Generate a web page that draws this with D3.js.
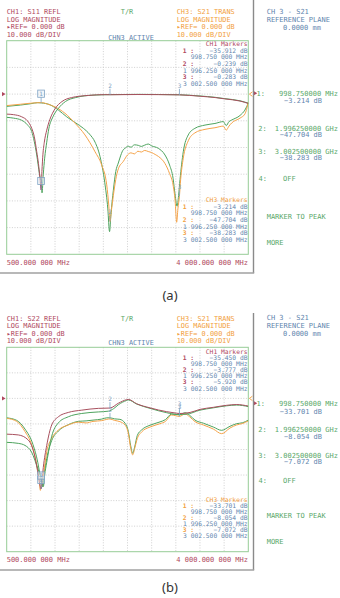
<!DOCTYPE html>
<meta charset="utf-8">
<style>
body { margin: 0; background: #fff; }
svg text { font-family: "DejaVu Sans Mono", monospace; }
.grid line { stroke: #c4c4c4; stroke-width: 0.8; stroke-dasharray: 1,1.6; }
.trace { fill: none; stroke-width: 1; }
</style>
<svg width="340" height="598"></svg>
<script src="https://cdn.jsdelivr.net/npm/d3@7"></script>
<script>

// sweep and screen scale
var freqDomain = [500, 4000];          // MHz, 350 MHz/div
var dbDomain = [-60, 20];              // 10 dB/div, ref 0 dB
var freqLabels = ["500.000 000 MHz", "4 000.000 000 MHz"];

// marker readouts
var markerFreqs = [998.75, 1996.25, 3002.5];
var markerFreqText = ["998.750 000 MHz", "1 996.250 000 MHz", "3 002.500 000 MHz"];
var softFreqText = ["998.750000 MHz", "1.996250000 GHz", "3.002500000 GHz"];
var ch1MarkA = [-35.912, -0.239, -0.283];
var ch3MarkA = [-3.214, -47.704, -38.283];
var ch1MarkB = [-35.450, -3.777, -5.920];
var ch3MarkB = [-33.701, -8.054, -7.072];

// (a) traces, [MHz, dB]
var s11A = [[500,-7.5],[600,-7.7],[717,-8.5],[800,-10],[862,-12.8],[900,-16],[935,-21.6],[960,-26],
  [980,-31],[998.75,-35.9],[1010,-29],[1025,-22.5],[1045,-18],[1080,-13.5],[1127,-9.4],[1200,-5.5],
  [1300,-2.8],[1440,-1.3],[1680,-0.5],[1920,-0.2],[1996,-0.24],[2400,-0.15],[2700,-0.2],[3002,-0.28],
  [3300,-0.8],[3520,-1.3],[3660,-1.8],[3880,-2.6],[4000,-3.5]];
var s11SimA = [[500,-8.7],[600,-9],[717,-9.8],[800,-11.5],[862,-14],[935,-22.8],[975,-30],[1000,-33.5],
  [1012,-37],[1030,-30],[1050,-24],[1080,-18],[1110,-13],[1170,-8.5],[1250,-5.3],[1350,-2.8],
  [1500,-1.3],[1750,-0.4],[2000,-0.2],[2400,-0.1],[2700,-0.15],[3000,-0.25],[3300,-0.7],[3520,-1.2],
  [3660,-1.7],[3880,-2.5],[4000,-3.4]];
var s21A = [[500,-4.3],[700,-3.8],[850,-3.4],[1000,-3.2],[1100,-3.8],[1200,-4.8],[1345,-7.2],[1490,-10.9],
  [1634,-15.3],[1780,-21.6],[1876,-26.6],[1949,-34],[1980,-42],[1997,-47.7],[2015,-44],[2045,-38],
  [2080,-32],[2117,-28],[2190,-25.2],[2250,-22.8],[2300,-22],[2350,-22.4],[2400,-21.4],[2450,-21.7],
  [2500,-21.1],[2550,-21.5],[2600,-21.9],[2650,-22.6],[2700,-23.4],[2793,-26],[2860,-29.8],[2910,-34],
  [2940,-40],[2962,-48],[2980,-43],[3002,-38.3],[3020,-32],[3058,-24],[3130,-17.5],[3228,-14.5],
  [3373,-13.2],[3517,-12.6],[3638,-12],[3680,-13.5],[3720,-12],[3760,-10.8],[3880,-9],[3950,-7.5],
  [4000,-3]];
var s21SimA = [[500,-4.6],[700,-4.1],[850,-3.6],[950,-3.2],[1000,-3.3],[1127,-4],[1250,-6],[1369,-8.5],
  [1500,-10.8],[1610,-12.8],[1700,-15],[1780,-18],[1852,-23.4],[1920,-33],[1965,-43],[1990,-51.5],
  [2010,-45],[2045,-36],[2080,-29],[2117,-25.8],[2190,-20.8],[2214,-20.3],[2260,-19.5],[2300,-19.9],
  [2350,-19],[2407,-19.2],[2450,-19.6],[2500,-19.1],[2550,-18.7],[2600,-19.4],[2696,-20.3],
  [2793,-22.8],[2860,-26.6],[2910,-31.5],[2940,-37.8],[2968,-42],[2990,-38],[3011,-32],[3058,-21.6],
  [3130,-15.3],[3228,-12.8],[3373,-11.6],[3517,-11],[3638,-10.3],[3680,-11.8],[3720,-10.3],
  [3760,-9.7],[3880,-8],[3950,-6],[4000,-3.4]];

// (b) traces
var s22B = [[500,-14],[668,-14.3],[813,-16.3],[910,-23],[958,-30],[998.75,-35.45],[1030,-27],[1080,-18.4],
  [1152,-10.4],[1248,-7.2],[1392,-5.5],[1587,-4.6],[1827,-3.9],[1996,-3.78],[2117,-1.9],[2238,-0.5],
  [2262,-0.4],[2383,-2.1],[2576,-3.7],[2818,-5.2],[2963,-5.8],[3002,-5.92],[3156,-5.5],[3300,-4.3],
  [3493,-3.5],[3687,-2.7],[3832,-2.4],[4000,-3]];
var s22SimB = [[500,-17.2],[668,-17.6],[765,-18.4],[860,-21],[958,-28],[1000,-31],[1031,-34.5],[1050,-30],
  [1080,-25],[1152,-14.8],[1248,-9.6],[1392,-7.2],[1587,-5.9],[1827,-5.3],[1972,-5],[2050,-4],
  [2117,-2.5],[2238,-0.8],[2262,-0.6],[2383,-2.2],[2576,-3.9],[2818,-5.6],[2963,-6.3],[3100,-6.2],
  [3300,-4.6],[3493,-3.7],[3687,-2.9],[3832,-2.6],[4000,-3.2]];
var s21B = [[500,-7.8],[645,-9],[765,-13],[862,-18.2],[935,-26],[970,-32],[988,-36],[998.75,-33.7],
  [1031,-29.9],[1080,-20.8],[1152,-15.6],[1248,-12.4],[1393,-10.4],[1538,-9.3],[1650,-9.6],[1750,-9],
  [1876,-8.7],[1950,-8.2],[1996,-8.05],[2060,-8.6],[2140,-9.1],[2214,-10.4],[2262,-13.7],[2296,-19.5],
  [2325,-22.1],[2354,-19.6],[2392,-15.7],[2456,-13.1],[2576,-11.2],[2721,-9.9],[2800,-9],[2890,-6.5],
  [2950,-6.8],[3002,-7.07],[3084,-6.1],[3150,-7.2],[3228,-9.1],[3349,-10.4],[3493,-12],[3614,-13.8],
  [3735,-11.6],[3830,-10.4],[3920,-9.8],[4000,-8.8]];
var s21SimB = [[500,-7.6],[645,-8.6],[765,-12],[880,-18],[950,-25],[990,-31],[1020,-34.6],[1040,-30],
  [1080,-23.5],[1152,-16.5],[1248,-12.8],[1393,-10.3],[1538,-9],[1650,-8.8],[1750,-8.5],[1876,-8.1],
  [1950,-7.6],[1996,-7.6],[2060,-8],[2140,-8.2],[2214,-9.7],[2262,-12.9],[2296,-18.5],[2325,-21.5],
  [2354,-19],[2392,-14.5],[2456,-12.3],[2576,-10.5],[2721,-9.2],[2800,-8.3],[2890,-6.1],[2950,-6.2],
  [3002,-6.5],[3084,-5.6],[3150,-6.6],[3228,-8.5],[3349,-9.7],[3493,-11.2],[3614,-12.5],[3735,-10.9],
  [3830,-9.9],[3920,-9.5],[4000,-8.5]];

var C = {
  ch1: "#b0485e", ch3: "#f2a040", green: "#5aa86a", blue: "#5f86ae",
  maroon: "#a8505e", simGreen: "#4ea35e", orange: "#f4a34a", mark: "#7fa3c4"
};

var panels = [
  { name: "(a)", ch1Title: "CH1: S11 REFL", refl: s11A, reflSim: s11SimA, trans: s21A, transSim: s21SimA,
    ch1Mark: ch1MarkA, ch3Mark: ch3MarkA,
    box: [6.7, 40.7, 248.3, 254.3], head: 11.7, active: 37.3, side: 11,
    rows: [93.3, 100, 128.3, 134.3, 151.7, 157.9, 178.3, 216.7, 242.7],
    tables: [44, 200], step: 6.6, frame: [0, 273], caption: 295 },
  { name: "(b)", ch1Title: "CH1: S22 REFL", refl: s22B, reflSim: s22SimB, trans: s21B, transSim: s21SimB,
    ch1Mark: ch1MarkB, ch3Mark: ch3MarkB,
    box: [6.7, 347.3, 248.3, 551.7], head: 318.3, active: 342.7, side: 317.3,
    rows: [403.3, 411, 429.3, 436, 455, 461.7, 480, 515, 541],
    tables: [351.7, 499.3], step: 6.1, frame: [313, 570], caption: 587 }
];

var svg = d3.select("svg");
var fmt = d3.format(".3f");

panels.forEach(function(p, pi) {
  var g = svg.append("g");
  var x = d3.scaleLinear().domain(freqDomain).range([p.box[0], p.box[2]]);
  var y = d3.scaleLinear().domain(dbDomain).range([p.box[3], p.box[1]]);

  function txt(s, tx, ty, color, size, anchor) {
    return g.append("text").attr("x", tx).attr("y", ty).attr("dy", "0.36em")
      .attr("fill", color).attr("font-size", size).attr("text-anchor", anchor || "start").text(s);
  }

  // header lines
  var headL = [p.ch1Title, "LOG MAGNITUDE", "\u25b8REF= 0.000 dB", "10.000 dB/DIV"];
  var headR = ["CH3: S21 TRANS", "LOG MAGNITUDE", "\u25b8REF= 0.000 dB", "10.000 dB/DIV"];
  headL.forEach(function(s, i) { txt(s, 6.7, p.head + i * 7.5, C.ch1, 6.9); });
  headR.forEach(function(s, i) { txt(s, 176.7, p.head + i * 7.5, C.ch3, 6.9); });
  txt("T/R", 127, p.head, C.green, 6.9, "middle");
  txt("CHN3 ACTIVE", 131, p.active, C.blue, 6.9, "middle");
  txt("CH 3 - S21", 266.7, p.side, C.blue, 7);
  txt("REFERENCE PLANE", 266.7, p.side + 8.3, C.blue, 7);
  txt("0.0000 mm", 283, p.side + 16.6, C.blue, 7);

  // grid
  var grid = g.append("g").attr("class", "grid");
  grid.selectAll(".v").data(d3.range(freqDomain[0] + 350, freqDomain[1], 350)).enter().append("line")
    .attr("x1", x).attr("x2", x).attr("y1", p.box[1]).attr("y2", p.box[3]);
  grid.selectAll(".h").data(d3.range(dbDomain[0] + 10, dbDomain[1], 10)).enter().append("line")
    .attr("y1", y).attr("y2", y).attr("x1", p.box[0]).attr("x2", p.box[2]);
  g.append("rect").attr("x", p.box[0]).attr("y", p.box[1])
    .attr("width", p.box[2] - p.box[0]).attr("height", p.box[3] - p.box[1])
    .attr("fill", "none").attr("stroke", "#96cc96").attr("stroke-width", 1);

  // traces
  var clipId = "clip" + pi;
  g.append("clipPath").attr("id", clipId).append("rect")
    .attr("x", p.box[0]).attr("y", p.box[1])
    .attr("width", p.box[2] - p.box[0]).attr("height", p.box[3] - p.box[1]);
  var line = d3.line().x(function(d) { return x(d[0]); }).y(function(d) { return y(d[1]); })
    .curve(d3.curveMonotoneX);
  var traces = g.append("g").attr("clip-path", "url(#" + clipId + ")");
  [[p.transSim, C.simGreen], [p.trans, C.orange], [p.reflSim, C.simGreen], [p.refl, C.maroon]]
    .forEach(function(t) {
      traces.append("path").attr("class", "trace").attr("d", line(t[0])).attr("stroke", t[1]);
    });

  // marker flags on the traces
  [p.ch1Mark, p.ch3Mark].forEach(function(vals) {
    vals.forEach(function(v, i) {
      var mx = x(markerFreqs[i]), my = y(v);
      if (i === 0) {
        g.append("rect").attr("x", mx - 3.4).attr("y", my - 12.6).attr("width", 6.8).attr("height", 7.2)
          .attr("fill", "rgba(230,238,245,0.5)").attr("stroke", C.mark).attr("stroke-width", 0.8);
        g.append("line").attr("x1", mx).attr("x2", mx).attr("y1", my - 5.4).attr("y2", my)
          .attr("stroke", C.mark).attr("stroke-width", 0.8);
      } else {
        g.append("line").attr("x1", mx).attr("x2", mx).attr("y1", my - 6).attr("y2", my)
          .attr("stroke", C.mark).attr("stroke-width", 0.8);
      }
      txt(String(i + 1), mx, my - 9.2, C.mark, 6, "middle");
    });
  });

  // marker tables inside the graticule
  [[p.ch1Mark, "CH1 Markers", C.ch1], [p.ch3Mark, "CH3 Markers", C.ch3]].forEach(function(t, ti) {
    var ty = p.tables[ti];
    txt(t[1], 247.5, ty, t[2], 6.3, "end");
    t[0].forEach(function(v, i) {
      var ly = ty + p.step * (1 + 2 * i);
      txt((i + 1) + " :", 182.7, ly, t[2], 6.3).attr("font-weight", "bold");
      txt(fmt(v) + " dB", 247.5, ly, C.blue, 6.3, "end");
      txt(markerFreqText[i], 247.5, ly + p.step, C.blue, 6.3, "end");
    });
  });

  // frequency span
  txt(freqLabels[0], 6.7, p.box[3] + 8.2, C.ch1, 7);
  txt(freqLabels[1], 248, p.box[3] + 8.2, C.ch1, 7, "end");

  // reference level arrows
  var yr = y(0);
  g.append("path").attr("d", "M2," + (yr - 2.2) + "L5.6," + yr + "L2," + (yr + 2.2) + "Z").attr("fill", C.ch1);
  g.append("path").attr("d", "M252.4," + (yr - 2.2) + "L249.4," + yr + "L252.4," + (yr + 2.2))
    .attr("fill", "none").attr("stroke", C.ch3).attr("stroke-width", 0.9);
  var r0 = p.rows[0];
  g.append("path").attr("d", "M253.6," + (r0 - 2.2) + "L257.2," + r0 + "L253.6," + (r0 + 2.2) + "Z").attr("fill", C.ch1);

  // softkey area
  p.ch3Mark.forEach(function(v, i) {
    txt((i + 1) + ":", i === 0 ? 256.5 : 258.3, p.rows[2 * i], C.green, 7);
    txt(softFreqText[i], 338, p.rows[2 * i], C.green, 7, "end");
    txt(fmt(v) + " dB", 322, p.rows[2 * i + 1], C.blue, 7, "end");
  });
  txt("4:", 258.5, p.rows[6], C.green, 7);
  txt("OFF", 283, p.rows[6], C.green, 7);
  txt("MARKER TO PEAK", 266.7, p.rows[7], C.green, 7);
  txt("MORE", 266.7, p.rows[8], C.green, 7);

  // instrument frame
  g.append("line").attr("x1", 253.5).attr("x2", 253.5).attr("y1", p.frame[0]).attr("y2", p.frame[1])
    .attr("stroke", "#8a8a8a").attr("stroke-width", 1.4);
  g.append("line").attr("x1", 0).attr("x2", 254.2).attr("y1", p.frame[1]).attr("y2", p.frame[1])
    .attr("stroke", "#a0a0a0").attr("stroke-width", 1.4);

  g.append("text").attr("x", 170).attr("y", p.caption).attr("dy", "0.36em")
    .attr("text-anchor", "middle").attr("font-size", 13).attr("fill", "#333")
    .style("font-family", "'Noto Sans', sans-serif").text(p.name);
});

</script>
